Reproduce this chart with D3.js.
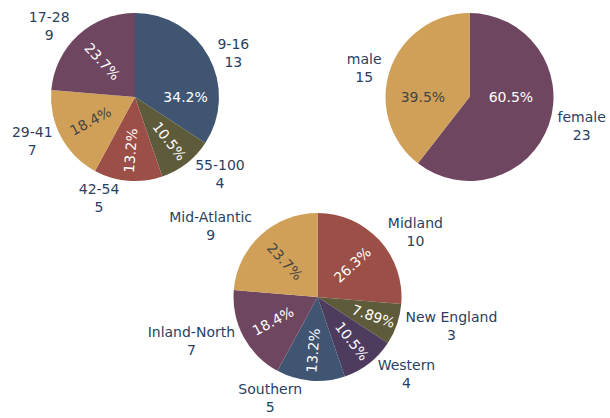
<!DOCTYPE html>
<html><head><meta charset="utf-8">
<script src="https://cdn.jsdelivr.net/npm/d3@7"></script>
<style>html,body{margin:0;padding:0;background:#fff;} svg{display:block;}</style>
</head><body>
<svg id="chart" width="610" height="418"></svg>
<script>
// ---- data ----
const ageLabels = ["9-16", "55-100", "42-54", "29-41", "17-28"];
const ageValues = [13, 4, 5, 7, 9];
const genderLabels = ["female", "male"];
const genderValues = [23, 15];
const regionLabels = ["Midland", "New England", "Western", "Southern", "Inland-North", "Mid-Atlantic"];
const regionValues = [10, 3, 4, 5, 7, 9];

// ---- colours (by category) ----
const colorByLabel = d3.scaleOrdinal()
  .domain(["9-16", "55-100", "42-54", "29-41", "17-28", "female", "male",
           "Midland", "New England", "Western", "Southern", "Inland-North", "Mid-Atlantic"])
  .range(["#3f5571", "#5e5b3a", "#9c4f46", "#d0a058", "#6f4660", "#6f4660", "#d0a058",
          "#9c4f46", "#5e5b3a", "#4e3c5f", "#3f5571", "#6f4660", "#d0a058"]);

// ---- layout ----
const W = 610, H = 418;
const FONT = "Verdana, 'DejaVu Sans', sans-serif";
const FS = 14;
const LABEL_COLOR = "#2a3f5f";
const R = 84;
const xPos = d3.scaleLinear().domain([0, 1]).range([0, W]);
const yPos = d3.scaleLinear().domain([0, 1]).range([0, H]);
const pies = [
  {labels: ageLabels, values: ageValues, cx: xPos(0.2213), cy: yPos(0.2321)},
  {labels: genderLabels, values: genderValues, cx: xPos(0.7697), cy: yPos(0.2321)},
  {labels: regionLabels, values: regionValues, cx: xPos(0.5205), cy: yPos(0.7105)}
];

const svg = d3.select("#chart");
const TEXTPAD = 3;
const pctFmt = d3.format(".3r");

function isLight(c) {
  const rgb = d3.rgb(c);
  return (rgb.r * 299 + rgb.g * 587 + rgb.b * 114) / 1000 >= 128;
}
function calcMaxHalfSize(a, halfAngle, r, ring) {
  const q = a + 1 / (2 * Math.tan(halfAngle));
  return r * Math.min(1 / (Math.sqrt(q * q + 0.5) + q), ring / (Math.sqrt(a * a + ring / 2) + a));
}
function calcRotate(t) { return (180 / Math.PI * t + 720) % 180 - 90; }
function calcRadTransform(bb, r, ring, halfAngle, midAngle) {
  r = Math.max(0, r - 2 * TEXTPAD);
  const a = bb.width / bb.height;
  const s = calcMaxHalfSize(a, halfAngle, r, ring);
  return {scale: s * 2 / bb.height, rCenter: Math.cos(s / r) - a * (s / r), rotate: calcRotate(midAngle)};
}
function insideTransform(bb, d, total, r) {
  const start = d.startAngle, stop = d.endAngle, mid = (start + stop) / 2;
  const halfAngle = Math.PI * Math.min(d.value / total, 0.5);
  const all = [];
  function consider(angle) {
    if ((start > angle && angle > stop) || (start < angle && angle < stop)) {
      const closest = Math.min(Math.abs(angle - start), Math.abs(angle - stop));
      const t = calcRadTransform(bb, r, 1, closest, Math.PI / 2);
      t.pos = angle; all.push(t);
    }
  }
  for (let i = 4; i >= -4; i -= 2) consider(Math.PI * (i + 1.5));
  for (let i = 4; i >= -4; i -= 2) consider(Math.PI * (i + 0.5));
  const t = calcRadTransform(bb, r, 1, halfAngle, mid); t.pos = mid; all.push(t);
  let id = 0, maxS = 0;
  for (let k = 0; k < all.length; k++) {
    if (maxS < all[k].scale) { maxS = all[k].scale; id = k; }
    if (maxS >= 1) break;
  }
  return all[id];
}
function coords(r, ang) { return [r * Math.sin(ang), -r * Math.cos(ang)]; }

pies.forEach(p => {
  const total = d3.sum(p.values);
  const arcs = d3.pie().sort(null).value(d => d)(p.values)
    .map((a, i) => Object.assign(a, {label: p.labels[i]}));
  const arcGen = d3.arc().innerRadius(0).outerRadius(R);
  const g = svg.append("g").attr("transform", `translate(${p.cx},${p.cy})`);

  g.selectAll("path.slice").data(arcs).join("path")
    .attr("class", "slice")
    .attr("d", arcGen)
    .attr("fill", d => colorByLabel(d.label));

  // inside percentage text
  arcs.forEach(d => {
    const col = colorByLabel(d.label);
    const t = g.append("text")
      .attr("font-family", FONT).attr("font-size", FS)
      .attr("text-anchor", "middle")
      .attr("fill", isLight(col) ? "#444" : "#fff")
      .text(pctFmt(d.value / total * 100) + "%");
    const bb = t.node().getBBox();
    const tr = insideTransform(bb, d, total, R);
    const xy = coords(R, tr.pos);
    const tx = xy[0] * tr.rCenter, ty = xy[1] * tr.rCenter;
    const sc = Math.min(1, tr.scale);
    t.attr("transform",
      `translate(${tx},${ty})` + (sc < 1 ? ` scale(${sc})` : "") +
      ` rotate(${tr.rotate}) translate(${-(bb.x + bb.width / 2)},${-(bb.y + bb.height / 2)})`);
  });

  // outside label + value text
  arcs.forEach(d => {
    const mid = (d.startAngle + d.endAngle) / 2;
    const [x, y] = coords(R, mid);
    const t = g.append("text")
      .attr("font-family", FONT).attr("font-size", FS)
      .attr("text-anchor", "middle")
      .attr("fill", LABEL_COLOR);
    t.append("tspan").attr("x", 0).attr("dy", 0).text(d.label);
    t.append("tspan").attr("x", 0).attr("dy", "1.3em").text(d.value);
    const bb = t.node().getBBox();
    let dx = bb.width / 2, dy = bb.height / 2;
    if (x < 0) dx *= -1;
    if (y < 0) dy *= -1;
    const ox = dx + Math.abs(dy) * (dx > 0 ? 1 : -1) / 2;
    const oy = dy / (1 + x * x / (y * y));
    const tx = x + ox, ty = y + oy;
    t.attr("transform", `translate(${tx - (bb.x + bb.width / 2)},${ty - (bb.y + bb.height / 2)})`);
  });
});
</script>
</body></html>
